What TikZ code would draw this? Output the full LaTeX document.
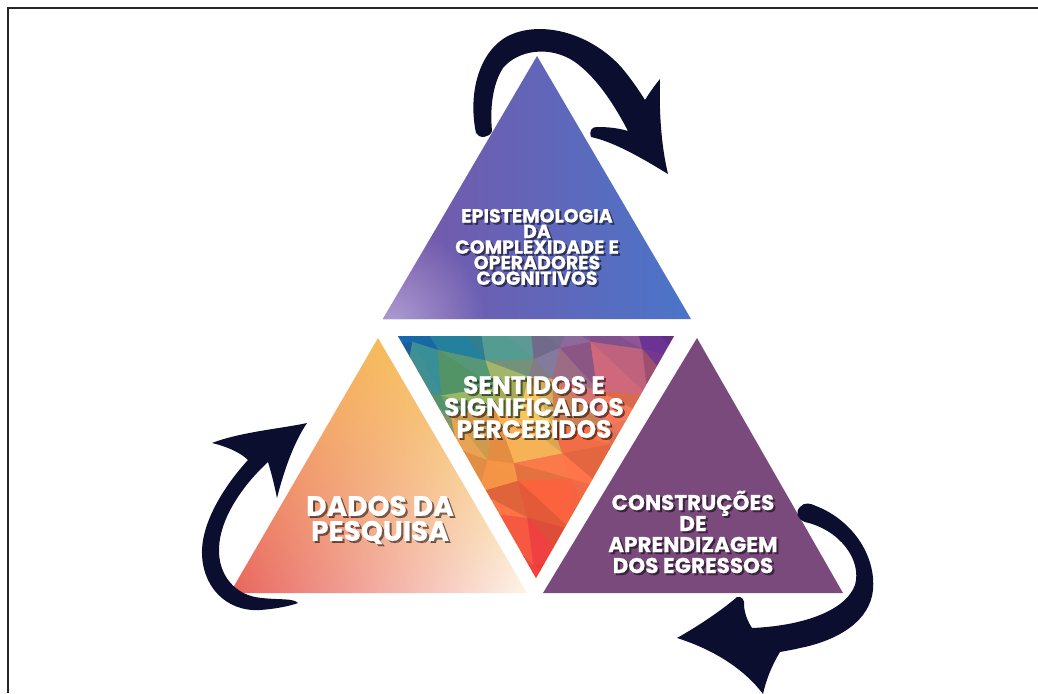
\documentclass[tikz,border=0pt]{standalone}
\usepackage{fontspec}
\newfontfamily\popfont{Poppins}[BoldFeatures={FakeBold=0.6}]
\usetikzlibrary{fadings,shadings}
\tikzfading[name=softdisc, inner color=transparent!0, outer color=transparent!100]
\definecolor{navy}{HTML}{0C0E30}
\definecolor{topL}{HTML}{7A56A8}
\definecolor{topR}{HTML}{4A75C9}
\definecolor{lav}{HTML}{AC9CD2}
\definecolor{blUL}{HTML}{F4A458}
\definecolor{blUR}{HTML}{F8D25E}
\definecolor{blLL}{HTML}{E8645C}
\definecolor{blLR}{HTML}{FDF4EA}
\definecolor{plum}{HTML}{7A4A7C}
\def\anchorlist{405/340/20/100/170, 450/342/35/130/160, 495/345/80/150/140, 545/345/120/115/150, 600/345/135/85/150, 660/342/105/50/145, 455/380/90/160/110, 500/395/170/180/90, 530/420/235/190/90, 610/375/200/100/120, 625/400/235/115/85, 500/450/245/150/70, 575/455/245/110/70, 540/510/242/95/60, 537/565/232/60/65}
\newcommand\facetcolor[3]{%
  \gdef\sr{0}\gdef\sg{0}\gdef\sb{0}\gdef\sw{0}%
  \foreach \ax/\ay/\ar/\ag/\ab in \anchorlist {%
    \pgfmathsetmacro\fq{min(90,(((#1)-\ax)/30)^2+(((#2)-\ay)/30)^2)}%
    \pgfmathsetmacro\fw{1/(\fq*\fq+0.03)}%
    \pgfmathsetmacro\tmp{\sr+\fw*\ar/100}\xdef\sr{\tmp}%
    \pgfmathsetmacro\tmp{\sg+\fw*\ag/100}\xdef\sg{\tmp}%
    \pgfmathsetmacro\tmp{\sb+\fw*\ab/100}\xdef\sb{\tmp}%
    \pgfmathsetmacro\tmp{\sw+\fw}\xdef\sw{\tmp}%
  }%
  \pgfmathtruncatemacro\fR{min(255,(\sr/\sw)*100*(#3))}%
  \pgfmathtruncatemacro\fG{min(255,(\sg/\sw)*100*(#3))}%
  \pgfmathtruncatemacro\fB{min(255,(\sb/\sw)*100*(#3))}%
  \definecolor{facet}{RGB}{\fR,\fG,\fB}%
}
\def\gx#1#2{(372+38*(#1)+10*sin(97*(#1)+57*(#2)+11))}
\def\gy#1#2{(318+34*(#2)+10*cos(71*(#1)+113*(#2)+5))}
\newcommand\shtxt[4]{%
  \node[txt, text=black, text opacity=0.5, font={#3}] (#1-sh) at ([shift={(2,2)}]#2) {#4};
  \node[txt, text=white, font={#3}] (#1) at (#2) {#4};
}
\begin{document}
\begin{tikzpicture}[x=1pt,y=-1pt, txt/.style={align=center, inner sep=0pt}]
\useasboundingbox (0,0) rectangle (1038,693);
\fill[white] (0,0) rectangle (1038,693);
\draw[line width=2.2pt, black!85] (8,693) -- (8,8) -- (1038,8);

% top triangle
\shade[left color=topL, right color=topR] (537,56) -- (691,319) -- (383,319) -- cycle;
\begin{scope}
  \clip (537,56) -- (691,319) -- (383,319) -- cycle;
  \fill[lav, path fading=softdisc] (390,322) circle (95);
\end{scope}

% bottom-left triangle
\shade[upper left=blUL, upper right=blUR, lower left=blLL, lower right=blLR] (378,338) -- (527,593) -- (230,593) -- cycle;

% bottom-right triangle
\fill[plum] (697,338) -- (843,593) -- (543,593) -- cycle;

% centre low-poly triangle
\begin{scope}
  \clip (398,336) -- (674,336) -- (536,578) -- cycle;
  \fill[orange] (390,330) rectangle (680,585);
  \foreach \i in {0,...,8}{
    \foreach \j in {0,...,7}{
      \pgfmathtruncatemacro\ii{\i+1}
      \pgfmathtruncatemacro\jj{\j+1}
      \pgfmathsetmacro\cx{(\gx{\i}{\j}+\gx{\ii}{\j}+\gx{\ii}{\jj})/3}
      \pgfmathsetmacro\cy{(\gy{\i}{\j}+\gy{\ii}{\j}+\gy{\ii}{\jj})/3}
      \pgfmathsetmacro\bfac{1+0.07*sin(\i*137+\j*251+31)}
      \facetcolor{\cx}{\cy}{\bfac}
      \filldraw[fill=facet, draw=facet, line width=0.4pt] ({\gx{\i}{\j}},{\gy{\i}{\j}}) -- ({\gx{\ii}{\j}},{\gy{\ii}{\j}}) -- ({\gx{\ii}{\jj}},{\gy{\ii}{\jj}}) -- cycle;
      \pgfmathsetmacro\cx{(\gx{\i}{\j}+\gx{\ii}{\jj}+\gx{\i}{\jj})/3}
      \pgfmathsetmacro\cy{(\gy{\i}{\j}+\gy{\ii}{\jj}+\gy{\i}{\jj})/3}
      \pgfmathsetmacro\bfac{1+0.07*sin(\i*211+\j*83+127)}
      \facetcolor{\cx}{\cy}{\bfac}
      \filldraw[fill=facet, draw=facet, line width=0.4pt] ({\gx{\i}{\j}},{\gy{\i}{\j}}) -- ({\gx{\ii}{\jj}},{\gy{\ii}{\jj}}) -- ({\gx{\i}{\jj}},{\gy{\i}{\jj}}) -- cycle;
    }
  }
\end{scope}

% arrows
\fill[navy] (476,133)
 .. controls (468,95) and (478,52) .. (508,36)
 .. controls (540,20) and (590,32) .. (622,68)
 .. controls (632,80) and (640,92) .. (645,100)
 .. controls (650,92) and (655,85) .. (660,79)
 .. controls (659,110) and (661,145) .. (668,174)
 .. controls (645,160) and (615,142) .. (591,137)
 .. controls (589,130) and (592,127) .. (597,127)
 .. controls (608,127) and (618,128) .. (628,131)
 .. controls (618,112) and (600,80) .. (575,62)
 .. controls (550,45) and (518,50) .. (503,68)
 .. controls (492,85) and (490,110) .. (492,131)
 .. controls (490,138) and (479,139) .. cycle;

\fill[navy] (307,423)
 .. controls (285,428) and (240,432) .. (212,443)
 .. controls (225,446) and (240,452) .. (248,460)
 .. controls (225,485) and (203,520) .. (202,550)
 .. controls (201,585) and (225,612) .. (260,610)
 .. controls (275,609) and (290,606) .. (298,603)
 .. controls (293,598) and (280,600) .. (262,598)
 .. controls (235,596) and (218,575) .. (219,548)
 .. controls (220,520) and (240,488) .. (268,462)
 .. controls (272,475) and (275,488) .. (277,498)
 .. controls (282,478) and (292,445) .. cycle;

\fill[navy] (800,507)
 .. controls (804,502) and (810,503) .. (816,506)
 .. controls (852,520) and (876,555) .. (873,590)
 .. controls (870,620) and (840,640) .. (800,648)
 .. controls (792,650) and (785,651) .. (780,652)
 .. controls (772,665) and (766,680) .. (763,694)
 .. controls (745,670) and (715,650) .. (677,638)
 .. controls (700,625) and (722,610) .. (737,597)
 .. controls (742,596) and (745,600) .. (744,606)
 .. controls (745,615) and (748,622) .. (752,628)
 .. controls (800,626) and (845,612) .. (855,585)
 .. controls (862,560) and (840,530) .. (805,522)
 .. controls (797,519) and (795,512) .. cycle;

% texts
\shtxt{toptext}{537,247}{\popfont\bfseries\fontsize{19}{15.6}\selectfont}{EPISTEMOLOGIA\\DA\\COMPLEXIDADE E\\OPERADORES\\COGNITIVOS}
\shtxt{centertext}{534,407}{\popfont\bfseries\fontsize{25}{22}\selectfont}{SENTIDOS E\\SIGNIFICADOS\\PERCEBIDOS}
\shtxt{lefttext}{380,520}{\popfont\bfseries\fontsize{28}{25}\selectfont}{DADOS DA\\PESQUISA}
\shtxt{righttext}{693,532}{\popfont\bfseries\fontsize{21.5}{21}\selectfont}{CONSTRUÇÕES\\DE\\APRENDIZAGEM\\DOS EGRESSOS}
\end{tikzpicture}
\end{document}
